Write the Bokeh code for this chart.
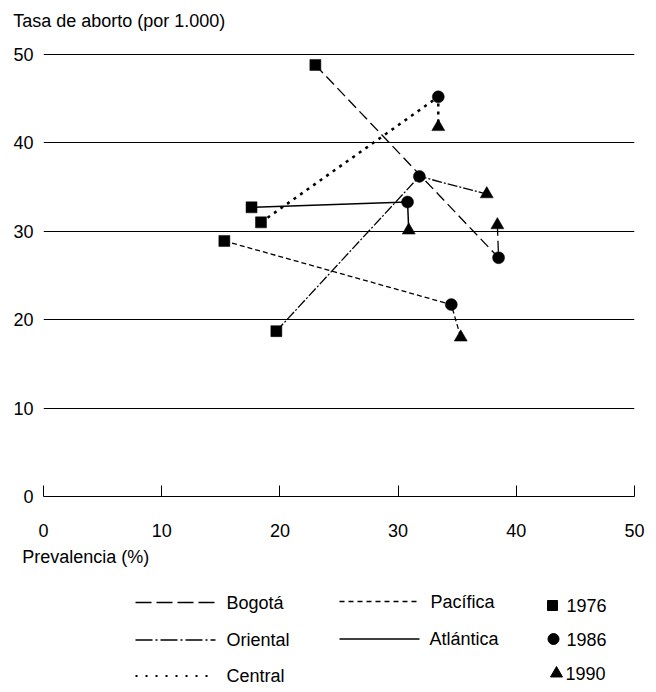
from bokeh.plotting import figure
from bokeh.models import Range1d, FixedTicker
from bokeh.layouts import column
from bokeh.embed import file_html
from bokeh.resources import INLINE
from bokeh.core.properties import value

# ---- data ----
regions = ["Bogotá", "Oriental", "Central", "Pacífica", "Atlántica"]
years = ["1976", "1986", "1990"]
prev_1976 = [23.0, 19.7, 18.4, 15.3, 17.6]
rate_1976 = [48.8, 18.7, 31.0, 28.9, 32.7]
prev_1986 = [38.5, 31.8, 33.4, 34.5, 30.8]
rate_1986 = [27.0, 36.2, 45.2, 21.7, 33.3]
prev_1990 = [38.4, 37.5, 33.4, 35.3, 30.9]
rate_1990 = [30.7, 34.2, 41.8, 18.0, 30.1]
x_ticks = [0, 10, 20, 30, 40, 50]
y_ticks = [0, 10, 20, 30, 40, 50]
y_title = "Tasa de aborto (por 1.000)"
x_title = "Prevalencia (%)"

# ---- styles ----
FONT = "Liberation Sans"
FS = "18px"
dash_chart = {"Bogotá": "11 5", "Oriental": "10 2 2 2", "Central": "3 5",
              "Pacífica": "5 3", "Atlántica": "solid"}
width_chart = {"Bogotá": 1.3, "Oriental": 1.3, "Central": 2.5,
               "Pacífica": 1.3, "Atlántica": 1.5}
dash_leg = {"Bogotá": "16 5", "Oriental": "17 3 2 3", "Central": "2 8",
            "Pacífica": "5 4", "Atlántica": "solid"}
width_leg = {"Bogotá": 1.3, "Oriental": 1.3, "Central": 2.0,
             "Pacífica": 1.3, "Atlántica": 1.5}
markers = {"1976": ("square", 11), "1986": ("circle", 12), "1990": ("triangle", 13)}


def text_fig(h, y0):
    f = figure(width=656, height=h, x_range=Range1d(0, 656), y_range=Range1d(y0 + h, y0),
               output_backend="svg", toolbar_location=None,
               x_axis_location=None, y_axis_location=None,
               min_border_left=0, min_border_right=0, min_border_top=0,
               min_border_bottom=0, frame_align=False)
    f.grid.visible = False
    f.outline_line_color = None
    return f


def put_text(f, x, y, s):
    f.text([x], [y], text=[s], text_font=value(FONT), text_font_size=FS,
           text_baseline="middle", text_align="left", text_color="black")


# ---- header ----
hd = text_fig(45, 0)
put_text(hd, 12.7, 20, y_title)

# ---- chart ----
p = figure(width=656, height=503, x_range=Range1d(0, 50), y_range=Range1d(0, 51),
           output_backend="svg", toolbar_location=None,
           min_border_left=43, min_border_right=22, min_border_top=0,
           min_border_bottom=52, frame_align=False)
p.outline_line_color = None
p.background_fill_color = "white"
p.border_fill_color = "white"

p.xgrid.visible = False
p.ygrid.ticker = FixedTicker(ticks=y_ticks)
p.ygrid.grid_line_color = "black"
p.ygrid.grid_line_width = 1

p.xaxis.ticker = FixedTicker(ticks=x_ticks)
p.xaxis.axis_line_color = "black"
p.xaxis.axis_line_width = 1
p.xaxis.major_tick_in = 11
p.xaxis.major_tick_out = 0
p.xaxis.major_tick_line_color = "black"
p.xaxis.minor_tick_line_color = None
p.xaxis.minor_tick_in = 0
p.xaxis.minor_tick_out = 0
p.xaxis.major_label_standoff = 27
p.xaxis.major_label_text_font = FONT
p.xaxis.major_label_text_font_size = FS
p.xaxis.major_label_text_color = "black"

p.yaxis.ticker = FixedTicker(ticks=y_ticks)
p.yaxis.axis_line_color = None
p.yaxis.major_tick_line_color = None
p.yaxis.minor_tick_line_color = None
p.yaxis.major_tick_in = 0
p.yaxis.major_tick_out = 0
p.yaxis.minor_tick_in = 0
p.yaxis.minor_tick_out = 0
p.yaxis.major_label_standoff = 10
p.yaxis.major_label_text_font = FONT
p.yaxis.major_label_text_font_size = FS
p.yaxis.major_label_text_color = "black"

for i, r in enumerate(regions):
    xs = [prev_1976[i], prev_1986[i], prev_1990[i]]
    ys = [rate_1976[i], rate_1986[i], rate_1990[i]]
    p.line(xs, ys, line_color="black", line_width=width_chart[r],
           line_dash=dash_chart[r])

year_x = {"1976": prev_1976, "1986": prev_1986, "1990": prev_1990}
year_y = {"1976": rate_1976, "1986": rate_1986, "1990": rate_1990}
for yr in years:
    m, s = markers[yr]
    p.scatter(year_x[yr], year_y[yr], marker=m, size=s,
              fill_color="black", line_color="black", line_width=0.5)

# ---- x title + legend (coordinates = page pixels) ----
lg = text_fig(144, 548)
put_text(lg, 21.7, 556, x_title)

leg_lines = [("Bogotá", 135, 215, 226, 602),
             ("Oriental", 135, 215, 226, 639.5),
             ("Central", 135, 215, 226, 675.5),
             ("Pacífica", 339, 417, 430, 601),
             ("Atlántica", 339, 419, 429, 638.5)]
for name, x0, x1, tx, yy in leg_lines:
    lg.line([x0, x1], [yy, yy], line_color="black", line_width=width_leg[name],
            line_dash=dash_leg[name])
    put_text(lg, tx, yy, name)

leg_years = [("1976", 552, 566, 605), ("1986", 553, 566, 638.5), ("1990", 556, 565, 673)]
for yr, mx, tx, yy in leg_years:
    m, s = markers[yr]
    lg.scatter([mx], [yy], marker=m, size=s - 1, fill_color="black", line_color="black")
    put_text(lg, tx, yy, yr)

layout = column(hd, p, lg, spacing=0)
open("out.html", "w").write(file_html(layout, INLINE))
